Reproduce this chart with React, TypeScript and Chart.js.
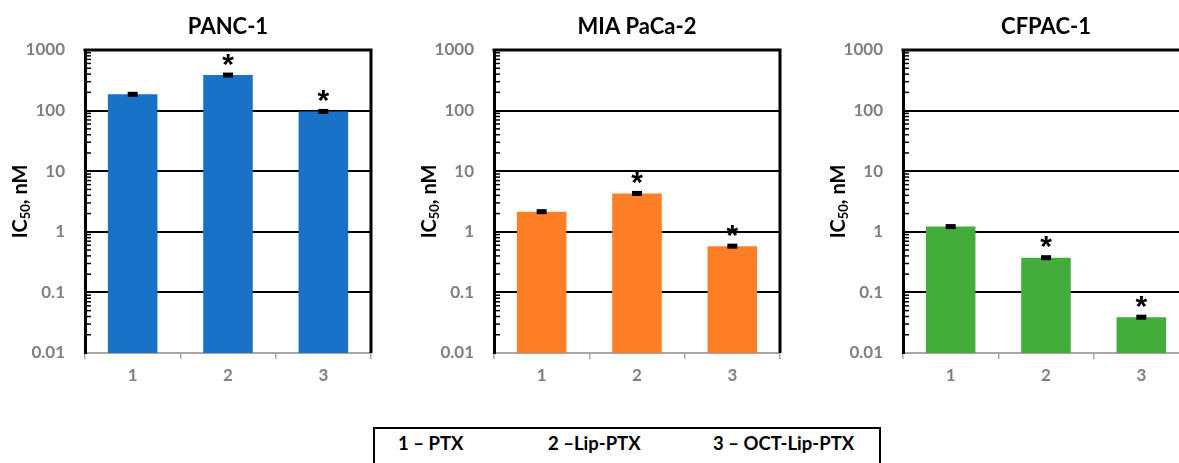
import React, { useEffect, useRef } from 'react';
import { Chart, registerables } from 'chart.js';

Chart.register(...registerables);

// ---------- data ----------
const categories = ['1', '2', '3'];
const panelTitles = ['PANC-1', 'MIA PaCa-2', 'CFPAC-1'];
const panc1Values = [186, 386, 97];
const panc1Errors = [8, 15, 4];
const miaValues = [2.15, 4.3, 0.58];
const miaErrors = [0.08, 0.15, 0.02];
const cfpacValues = [1.22, 0.374, 0.039];
const cfpacErrors = [0.04, 0.012, 0.0013];
const significant = [false, true, true];
const yTickLabels = ['0.01', '0.1', '1', '10', '100', '1000'];
const legendLabels = ['1 – PTX', '2 –Lip-PTX', '3 – OCT-Lip-PTX'];
const barColors = ['#1A72C8', '#FF7F27', '#42AD3A'];

const FONT = 'Lato, "Open Sans", "DejaVu Sans", sans-serif';
const CANVAS_W = 374;
const CANVAS_H = 400;
const PLOT_BOTTOM = 353;
const PLOT_TOP = 50;
const AXIS_W = 85;

function isPow10(v: number) {
  const l = Math.log10(v);
  return Math.abs(l - Math.round(l)) < 1e-6;
}

function Panel(props: { left: number; title: string; values: number[]; errors: number[]; color: string }) {
  const ref = useRef<HTMLCanvasElement>(null);
  useEffect(() => {
    const { title, values, errors, color } = props;
    const decor = {
      id: 'decor',
      afterDraw(chart: any) {
        const { ctx, chartArea: a, scales } = chart;
        const ys = scales.y;
        const xs = scales.x;
        ctx.save();
        // minor ticks inside left axis
        ctx.strokeStyle = '#000';
        ctx.lineWidth = 1.5;
        const minE = Math.round(Math.log10(ys.min));
        const maxE = Math.round(Math.log10(ys.max));
        for (let e = minE; e < maxE; e++) {
          for (let m = 2; m <= 9; m++) {
            const py = ys.getPixelForValue(m * Math.pow(10, e));
            ctx.beginPath();
            ctx.moveTo(a.left, py);
            ctx.lineTo(a.left + 6, py);
            ctx.stroke();
          }
        }
        // top & right border
        ctx.lineWidth = 3;
        ctx.beginPath();
        ctx.moveTo(a.left - 1.5, a.top);
        ctx.lineTo(a.right, a.top);
        ctx.lineTo(a.right, a.bottom);
        ctx.stroke();
        // title
        ctx.fillStyle = '#000';
        ctx.font = `bold 22px ${FONT}`;
        ctx.textAlign = 'center';
        ctx.textBaseline = 'middle';
        ctx.fillText(title, (a.left + a.right) / 2, 27);
        // y axis title with subscript
        ctx.save();
        ctx.translate(21, (a.top + a.bottom) / 2);
        ctx.rotate(-Math.PI / 2);
        ctx.textAlign = 'left';
        ctx.textBaseline = 'middle';
        const big = `bold 20px ${FONT}`;
        const small = `bold 13px ${FONT}`;
        ctx.font = big;
        const w1 = ctx.measureText('IC').width;
        const w3 = ctx.measureText(', nM').width;
        ctx.font = small;
        const w2 = ctx.measureText('50').width;
        let x0 = -(w1 + w2 + w3) / 2;
        ctx.font = big;
        ctx.fillText('IC', x0, 0);
        ctx.font = small;
        ctx.fillText('50', x0 + w1, 5);
        ctx.font = big;
        ctx.fillText(', nM', x0 + w1 + w2, 0);
        ctx.restore();
        // error bars + asterisks
        values.forEach((v, i) => {
          const cx = xs.getPixelForValue(i);
          const yTop = ys.getPixelForValue(v + errors[i]);
          const yBot = ys.getPixelForValue(v - errors[i]);
          const h = Math.max(5, yBot - yTop);
          const cy = (yTop + yBot) / 2;
          ctx.fillStyle = '#000';
          ctx.fillRect(cx - 5, cy - h / 2, 10, h);
          if (significant[i]) {
            ctx.font = `bold 30px "Liberation Sans", Arial, sans-serif`;
            ctx.textAlign = 'center';
            ctx.textBaseline = 'alphabetic';
            const m = ctx.measureText('*');
            const off = (m.actualBoundingBoxDescent - m.actualBoundingBoxAscent) / 2;
            ctx.fillText('*', cx, cy - h / 2 - 13 - off);
          }
        });
        ctx.restore();
      },
    };
    const chart = new Chart(ref.current as HTMLCanvasElement, {
      type: 'bar',
      data: {
        labels: categories,
        datasets: [
          {
            data: values,
            backgroundColor: color,
            borderWidth: 0,
            barPercentage: 0.52,
            categoryPercentage: 1,
          },
        ],
      },
      options: {
        responsive: false,
        animation: false,
        devicePixelRatio: 1,
        layout: { padding: { top: PLOT_TOP, right: 3, left: 0, bottom: 0 } },
        plugins: { legend: { display: false }, title: { display: false }, tooltip: { enabled: false } },
        scales: {
          x: {
            type: 'category',
            offset: true,
            grid: {
              offset: true,
              drawOnChartArea: false,
              drawTicks: true,
              tickLength: 6,
              color: '#a6a6a6',
              lineWidth: 1.5,
            },
            border: { display: true, color: '#a6a6a6', width: 2 },
            ticks: { color: '#808080', font: { family: FONT, size: 17, weight: 'bold' }, padding: 6 },
            afterFit: (s: any) => {
              s.height = CANVAS_H - PLOT_BOTTOM;
            },
          },
          y: {
            type: 'logarithmic',
            min: 0.01,
            max: 1000,
            grid: {
              drawTicks: false,
              lineWidth: 2,
              color: (c: any) => {
                const v = c.tick && c.tick.value;
                if (!v || v <= 0.01 + 1e-9) return 'rgba(0,0,0,0)';
                return isPow10(v) ? '#000' : 'rgba(0,0,0,0)';
              },
            },
            border: { display: true, color: '#000', width: 3 },
            ticks: {
              autoSkip: false,
              color: '#808080',
              font: { family: FONT, size: 17, weight: 'bold' },
              padding: 20,
              callback: (val: any) => {
                const v = Number(val);
                const lbl = yTickLabels.find((t) => Math.abs(Number(t) - v) < v * 1e-6);
                return lbl ? lbl : '';
              },
            },
            afterFit: (s: any) => {
              s.width = AXIS_W;
            },
          },
        },
      } as any,
      plugins: [decor],
    });
    return () => chart.destroy();
  }, []);
  return (
    <canvas
      ref={ref}
      width={CANVAS_W}
      height={CANVAS_H}
      style={{ position: 'absolute', left: props.left, top: 0, width: CANVAS_W, height: CANVAS_H }}
    />
  );
}

const legendX = [398, 548, 713];

export default function App() {
  const panels = [
    { values: panc1Values, errors: panc1Errors },
    { values: miaValues, errors: miaErrors },
    { values: cfpacValues, errors: cfpacErrors },
  ];
  return (
    <div
      style={{
        position: 'fixed',
        left: 0,
        top: 0,
        width: 1179,
        height: 463,
        overflow: 'hidden',
        background: '#fff',
      }}
    >
      {panels.map((p, i) => (
        <Panel key={i} left={i * 409} title={panelTitles[i]} values={p.values} errors={p.errors} color={barColors[i]} />
      ))}
      <div
        style={{
          position: 'absolute',
          left: 373,
          top: 427,
          width: 508,
          height: 60,
          border: '2px solid #000',
          boxSizing: 'border-box',
        }}
      />
      {legendLabels.map((t, i) => (
        <div
          key={t}
          style={{
            position: 'absolute',
            left: legendX[i],
            top: 433,
            fontFamily: FONT,
            fontWeight: 'bold',
            fontSize: 18.5,
            lineHeight: '20px',
            color: '#000',
            whiteSpace: 'nowrap',
          }}
        >
          {t}
        </div>
      ))}
    </div>
  );
}
